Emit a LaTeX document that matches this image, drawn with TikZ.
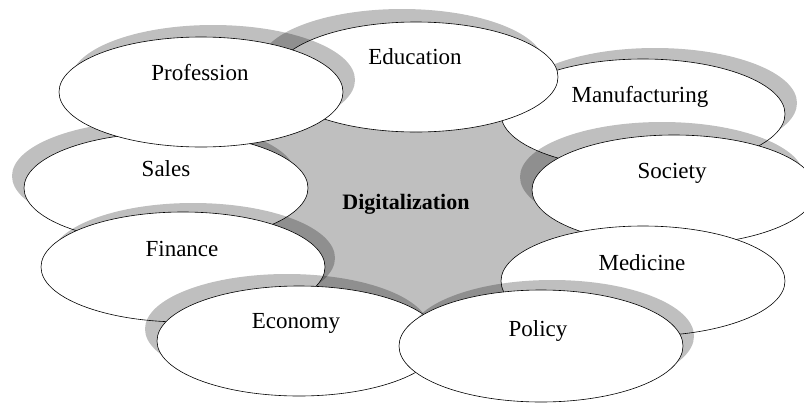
\documentclass[tikz,border=0pt]{standalone}
\usepackage{fontspec}
\setmainfont{Liberation Serif}
\usetikzlibrary{shapes.geometric}
\begin{document}
\begin{tikzpicture}[x=1pt,y=-1pt,
  bubble/.style={ellipse, draw=black, line width=0.6pt, fill=white,
    minimum width=284pt, minimum height=110pt, inner sep=0pt, outer sep=0pt},
  castshadow/.style={fill=black, fill opacity=0.25},
  lbl/.style={anchor=base, inner sep=0pt, text=black,
    font=\fontsize{23}{27}\selectfont},
  hublbl/.style={anchor=base, inner sep=0pt, text=black,
    font=\fontsize{22}{26}\selectfont\bfseries},
  hub/.style={fill=black!25}]
\useasboundingbox (0,0) rectangle (804,405);
\clip (0,0) rectangle (804,405);

% grey hub behind the ring of ellipses
\fill[hub] (320,100) -- (540,100) -- (580,160) -- (620,236) -- (560,300)
  -- (410,335) -- (300,290) -- (260,225) -- (220,142) -- cycle;

% ring of ellipses, back to front, each with its cast shadow
\fill[castshadow] (154,176) ellipse [x radius=142pt, y radius=55pt];
\node[bubble] (sales) at (166,188) {};

\fill[castshadow] (193,258) ellipse [x radius=142pt, y radius=55pt];
\node[bubble] (finance) at (183,267) {};

\fill[castshadow] (287,329) ellipse [x radius=142pt, y radius=55pt];
\node[bubble] (economy) at (299,341) {};

\fill[castshadow] (655,103) ellipse [x radius=142pt, y radius=55pt];
\node[bubble] (manufacturing) at (643,114) {};

\fill[castshadow] (662,177) ellipse [x radius=142pt, y radius=55pt];
\node[bubble] (society) at (674,190) {};

\node[bubble] (medicine) at (643,281) {};

\fill[castshadow] (552,336) ellipse [x radius=142pt, y radius=56pt];
\node[bubble, minimum height=112pt] (policy) at (541,346) {};

\fill[castshadow] (402,64) ellipse [x radius=142pt, y radius=55pt];
\node[bubble] (education) at (416,77) {};

\fill[castshadow] (213,80) ellipse [x radius=142pt, y radius=55pt];
\node[bubble] (profession) at (201,92) {};

% labels
\node[lbl] (t-profession) at (200,80) {Profession};
\node[lbl] (t-education) at (415,64) {Education};
\node[lbl] (t-manufacturing) at (640,102) {Manufacturing};
\node[lbl] (t-society) at (672,178) {Society};
\node[lbl] (t-medicine) at (642,270) {Medicine};
\node[lbl] (t-policy) at (538,336) {Policy};
\node[lbl] (t-economy) at (296,328) {Economy};
\node[lbl] (t-finance) at (182,256) {Finance};
\node[lbl] (t-sales) at (166,176) {Sales};
\node[hublbl] (t-hub) at (406,209) {Digitalization};
\end{tikzpicture}
\end{document}
